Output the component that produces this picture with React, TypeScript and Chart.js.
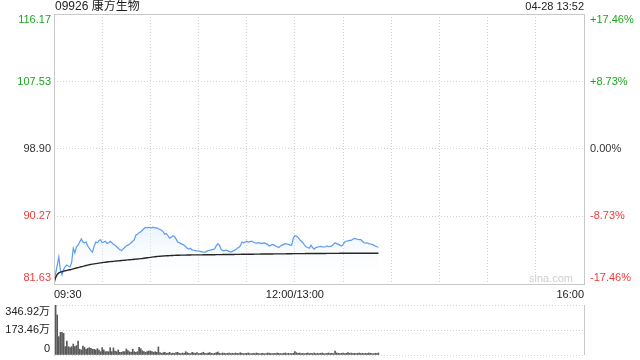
import React, { useEffect, useRef } from 'react';
import { Chart, registerables } from 'chart.js';

Chart.register(...registerables);

const TITLE = '09926 康方生物';
const STAMP = '04-28 13:52';
const WATERMARK = 'sina.com';
const PREV_CLOSE = 98.9;
const SESSION_MINUTES = 330;

const priceTicks = [81.63, 90.27, 98.9, 107.53, 116.17];
const priceTickLabels = ['81.63', '90.27', '98.90', '107.53', '116.17'];
const pctTickLabels = ['-17.46%', '-8.73%', '0.00%', '+8.73%', '+17.46%'];
const volTicks = [0, 173.46, 346.92];
const volTickLabels = ['0', '173.46万', '346.92万'];
const timeTickMinutes = [0, 150, 330];
const timeTickLabels = ['09:30', '12:00/13:00', '16:00'];

// one value per traded minute from 09:30 (lunch break removed)
const prices = [
  81.76, 83.0, 84.0, 85.1, 83.4, 82.8, 83.5, 83.85, 84.05, 83.9,
  83.8, 84.4, 86.2, 85.6, 86.4, 86.6, 87.0, 87.4, 87.0, 86.9,
  87.0, 86.5, 86.2, 85.9, 85.7, 86.5, 87.0, 86.9, 87.2, 87.3,
  86.9, 87.0, 87.1, 86.8, 86.9, 87.1, 86.9, 86.7, 86.6, 86.4,
  86.2, 86.0, 85.9, 86.1, 86.3, 86.5, 86.6, 86.7, 86.9, 87.1,
  87.3, 87.9, 88.0, 88.2, 88.3, 88.5, 88.7, 88.9, 88.8, 88.9,
  88.8, 88.85, 88.9, 88.8, 88.8, 88.7, 88.6, 88.5, 88.3, 88.0,
  88.1, 87.8, 87.5, 87.6, 87.8, 87.7, 87.4, 87.0, 86.9, 86.8,
  86.7, 86.6, 86.4, 86.2, 86.1, 86.2, 86.0, 85.95, 85.9, 85.85,
  85.85, 85.8, 85.75, 85.7, 85.7, 85.8, 85.9, 85.95, 86.0, 86.05,
  86.1, 86.5, 86.8, 86.6, 86.1, 85.9, 85.9, 85.95, 85.9, 85.8,
  85.7, 85.8, 85.9, 86.0, 86.2, 86.3, 86.5, 87.0, 86.9, 87.0,
  87.1, 87.0, 87.05, 87.1, 87.0, 86.9, 86.85, 86.9, 86.9, 86.8,
  86.85, 86.9, 86.8, 86.7, 86.5, 86.6, 86.7, 86.6, 86.5, 86.4,
  86.3, 86.5, 86.6, 86.7, 86.8, 86.75, 86.7, 86.6, 86.6, 87.5,
  87.8, 87.75, 87.6, 87.3, 87.1, 86.9, 86.6, 86.4, 86.3, 86.2,
  86.6, 86.3, 86.1, 86.3, 86.35, 86.4, 86.45, 86.4, 86.35, 86.4,
  86.5, 86.4, 86.45, 86.5, 86.7, 86.9, 86.8, 86.7, 86.6, 86.5,
  86.7, 87.0, 87.1, 87.15, 87.2, 87.2, 87.35, 87.45, 87.4, 87.35,
  87.3, 87.3, 87.1, 86.9, 86.85, 86.9, 86.8, 86.75, 86.7, 86.6,
  86.5, 86.4, 86.35,
];

const avgPrices = [
  81.76, 82.45, 82.85, 83.05, 83.15, 83.22, 83.28, 83.33, 83.38, 83.42,
  83.46, 83.5, 83.56, 83.62, 83.68, 83.73, 83.78, 83.83, 83.88, 83.94,
  84.0, 84.05, 84.1, 84.14, 84.18, 84.21, 84.24, 84.27, 84.3, 84.33,
  84.36, 84.39, 84.42, 84.45, 84.47, 84.49, 84.51, 84.53, 84.55, 84.57,
  84.59, 84.61, 84.63, 84.65, 84.67, 84.69, 84.71, 84.73, 84.75, 84.77,
  84.79, 84.81, 84.83, 84.85, 84.87, 84.89, 84.92, 84.95, 84.98, 85.01,
  85.04, 85.07, 85.1, 85.12, 85.14, 85.16, 85.18, 85.2, 85.22, 85.23,
  85.24, 85.25, 85.26, 85.27, 85.28, 85.29, 85.3, 85.31, 85.31, 85.32,
  85.32, 85.33, 85.33, 85.34, 85.34, 85.34, 85.35, 85.35, 85.35, 85.36,
  85.36, 85.36, 85.36, 85.37, 85.37, 85.37, 85.37, 85.38, 85.38, 85.38,
  85.38, 85.39, 85.39, 85.39, 85.39, 85.4, 85.4, 85.4, 85.4, 85.41,
  85.41, 85.41, 85.41, 85.42, 85.42, 85.42, 85.42, 85.43, 85.43, 85.43,
  85.43, 85.44, 85.44, 85.44, 85.44, 85.45, 85.45, 85.45, 85.45, 85.46,
  85.46, 85.46, 85.46, 85.47, 85.47, 85.47, 85.47, 85.48, 85.48, 85.48,
  85.48, 85.49, 85.49, 85.49, 85.49, 85.5, 85.5, 85.5, 85.5, 85.51,
  85.51, 85.51, 85.52, 85.52, 85.52, 85.52, 85.52, 85.53, 85.53, 85.53,
  85.53, 85.53, 85.53, 85.54, 85.54, 85.54, 85.54, 85.54, 85.54, 85.54,
  85.55, 85.55, 85.55, 85.55, 85.55, 85.55, 85.55, 85.55, 85.56, 85.56,
  85.56, 85.56, 85.56, 85.56, 85.56, 85.56, 85.56, 85.56, 85.56, 85.56,
  85.56, 85.56, 85.57, 85.57, 85.57, 85.57, 85.57, 85.57, 85.57, 85.57,
  85.57, 85.57, 85.57,
];

// volume in 万 shares per minute
const volumes = [
  317, 346, 278, 127, 157, 157, 150, 58, 97, 58,
  51, 58, 76, 58, 65, 97, 40, 35, 62, 53,
  40, 46, 51, 46, 40, 40, 35, 44, 35, 23,
  51, 35, 23, 23, 23, 51, 23, 49, 28, 23,
  35, 19, 19, 23, 23, 42, 30, 23, 19, 40,
  23, 19, 23, 53, 44, 30, 23, 19, 23, 28,
  28, 23, 19, 23, 19, 56, 16, 12, 16, 19,
  12, 14, 19, 10, 14, 12, 16, 19, 12, 10,
  14, 12, 23, 16, 12, 10, 19, 14, 12, 16,
  10, 12, 14, 19, 12, 10, 14, 16, 12, 10,
  12, 16, 21, 12, 10, 14, 12, 9, 12, 14,
  10, 12, 9, 14, 12, 10, 16, 12, 10, 9,
  12, 14, 10, 9, 12, 10, 14, 12, 9, 10,
  12, 9, 10, 14, 12, 10, 9, 12, 10, 14,
  12, 10, 9, 12, 14, 10, 12, 9, 10, 12,
  23, 16, 12, 14, 10, 12, 9, 12, 14, 10,
  12, 10, 14, 9, 12, 10, 12, 14, 10, 9,
  12, 14, 10, 12, 9, 28, 14, 12, 10, 12,
  14, 10, 12, 16, 12, 14, 10, 12, 9, 12,
  14, 10, 12, 9, 12, 10, 14, 12, 10, 9,
  12, 10, 14,
];

const FONT = '"Liberation Sans", Arial, "Noto Sans CJK SC", sans-serif';
const GREEN = '#1ea51e';
const RED = '#f03c3c';
const GRID = '#d2d2d2';
const FRAME = '#c8c8c8';

const mainDecor = {
  id: 'mainDecor',
  beforeDatasetsDraw(chart: any) {
    const { ctx, chartArea: a } = chart;
    ctx.save();
    ctx.font = `11px ${FONT}`;
    ctx.fillStyle = '#cfcfcf';
    ctx.textAlign = 'right';
    ctx.textBaseline = 'middle';
    ctx.fillText(WATERMARK, a.right - 11, a.bottom - 5);
    ctx.restore();
  },
  afterDraw(chart: any) {
    const { ctx, chartArea: a, scales } = chart;
    const ys = scales.y;
    ctx.save();
    ctx.strokeStyle = FRAME;
    ctx.lineWidth = 1;
    ctx.setLineDash([]);
    const l = Math.round(a.left) + 0.5;
    const r = Math.round(a.right) + 0.5;
    const t = Math.round(a.top) + 0.5;
    const b = Math.round(a.bottom) + 0.5;
    ctx.strokeRect(l, t, r - l, b - t);

    ctx.font = `11px ${FONT}`;
    ctx.textBaseline = 'middle';
    priceTicks.forEach((v, i) => {
      let y = ys.getPixelForValue(v);
      if (i === priceTicks.length - 1) y += 6;
      else if (i === 0) y -= 6;
      ctx.fillStyle = v > PREV_CLOSE ? GREEN : v < PREV_CLOSE ? RED : '#333';
      ctx.textAlign = 'right';
      ctx.fillText(priceTickLabels[i], a.left - 3, y);
      ctx.textAlign = 'left';
      ctx.fillText(pctTickLabels[i], a.right + 6, y);
    });

    ctx.fillStyle = '#222';
    ctx.font = `12px ${FONT}`;
    ctx.textAlign = 'left';
    ctx.fillText(TITLE, a.left + 1, 7);
    ctx.font = `11px ${FONT}`;
    ctx.textAlign = 'right';
    ctx.fillText(STAMP, a.right, 7);
    ctx.restore();
  },
};

const volDecor = {
  id: 'volDecor',
  afterDraw(chart: any) {
    const { ctx, chartArea: a, scales } = chart;
    const ys = scales.y;
    ctx.save();
    ctx.strokeStyle = FRAME;
    ctx.lineWidth = 1;
    ctx.setLineDash([]);
    const l = Math.round(a.left) + 0.5;
    const r = Math.round(a.right) + 0.5;
    ctx.beginPath();
    ctx.moveTo(l, a.top);
    ctx.lineTo(l, a.bottom);
    ctx.moveTo(r, a.top);
    ctx.lineTo(r, a.bottom);
    ctx.stroke();

    ctx.font = `11px ${FONT}`;
    ctx.textBaseline = 'middle';
    ctx.textAlign = 'right';
    ctx.fillStyle = '#222';
    volTicks.forEach((v, i) => {
      let y = ys.getPixelForValue(v);
      if (i === volTicks.length - 1) y += 6.5;
      else if (i === 0) y -= 6.5;
      ctx.fillText(volTickLabels[i], a.left - 4, y);
    });
    ctx.restore();
  },
};

export default function App() {
  const mainRef = useRef<HTMLCanvasElement>(null);
  const volRef = useRef<HTMLCanvasElement>(null);

  useEffect(() => {
    const priceData = prices.map((p, i) => ({ x: i, y: p }));
    const avgData = avgPrices.map((p, i) => ({ x: i, y: p }));
    const volData = volumes.map((v, i) => ({ x: i, y: v }));

    const main = new Chart(mainRef.current as HTMLCanvasElement, {
      type: 'line',
      data: {
        datasets: [
          {
            data: avgData,
            borderColor: '#262626',
            borderWidth: 1.4,
            pointRadius: 0,
            fill: false,
            tension: 0,
          },
          {
            data: priceData,
            borderColor: '#5b9bf2',
            borderWidth: 1.2,
            pointRadius: 0,
            tension: 0,
            fill: 'start',
            backgroundColor: (ctx: any) => {
              const c = ctx.chart;
              const a = c.chartArea;
              if (!a) return 'rgba(0,0,0,0)';
              const g = c.ctx.createLinearGradient(0, a.top + (a.bottom - a.top) * 0.78, 0, a.bottom);
              g.addColorStop(0, 'rgba(214,229,251,0.5)');
              g.addColorStop(1, 'rgba(255,255,255,0)');
              return g;
            },
          },
        ],
      },
      options: {
        responsive: false,
        animation: false,
        events: [],
        layout: { padding: { top: 14, right: 56, left: 0, bottom: 0 } },
        plugins: { legend: { display: false }, tooltip: { enabled: false } },
        scales: {
          x: {
            type: 'linear',
            min: 0,
            max: SESSION_MINUTES,
            afterBuildTicks: (s: any) => {
              const t = [];
              for (let m = 0; m <= SESSION_MINUTES; m += 30) t.push({ value: m });
              s.ticks = t;
            },
            ticks: {
              autoSkip: false,
              maxRotation: 0,
              align: 'inner',
              padding: 4,
              color: '#222',
              font: { family: FONT, size: 11 },
              callback: (value: any) => {
                const k = timeTickMinutes.indexOf(Number(value));
                return k >= 0 ? timeTickLabels[k] : '';
              },
            },
            grid: { color: GRID, drawTicks: false, lineWidth: 1 },
            border: { display: false, dash: [1, 2] },
            afterFit: (s: any) => {
              s.height = 16;
            },
          },
          y: {
            min: priceTicks[0],
            max: priceTicks[priceTicks.length - 1],
            afterBuildTicks: (s: any) => {
              s.ticks = priceTicks.map((v) => ({ value: v }));
            },
            ticks: { display: false },
            grid: { color: GRID, drawTicks: false, lineWidth: 1 },
            border: { display: false, dash: [1, 2] },
            afterFit: (s: any) => {
              s.width = 54;
            },
          },
        },
      },
      plugins: [mainDecor],
    } as any);

    const vol = new Chart(volRef.current as HTMLCanvasElement, {
      type: 'bar',
      data: {
        datasets: [
          {
            data: volData,
            backgroundColor: '#595959',
            borderWidth: 0,
            barThickness: 1,
          },
        ],
      },
      options: {
        responsive: false,
        animation: false,
        events: [],
        layout: { padding: { top: 5, right: 56, left: 0, bottom: 5 } },
        plugins: { legend: { display: false }, tooltip: { enabled: false } },
        scales: {
          x: { type: 'linear', min: 0, max: SESSION_MINUTES, offset: false, display: false },
          y: {
            min: volTicks[0],
            max: volTicks[volTicks.length - 1],
            afterBuildTicks: (s: any) => {
              s.ticks = volTicks.map((v) => ({ value: v }));
            },
            ticks: { display: false },
            grid: { color: GRID, drawTicks: false, lineWidth: 1 },
            border: { display: false, dash: [1, 2] },
            afterFit: (s: any) => {
              s.width = 54;
            },
          },
        },
      },
      plugins: [volDecor],
    } as any);

    return () => {
      main.destroy();
      vol.destroy();
    };
  }, []);

  return (
    <div style={{ position: 'fixed', left: 0, top: 0, width: 640, height: 360, background: '#fff' }}>
      <canvas ref={mainRef} width={640} height={300} style={{ position: 'absolute', left: 0, top: 0 }} />
      <canvas ref={volRef} width={640} height={60} style={{ position: 'absolute', left: 0, top: 300 }} />
    </div>
  );
}
